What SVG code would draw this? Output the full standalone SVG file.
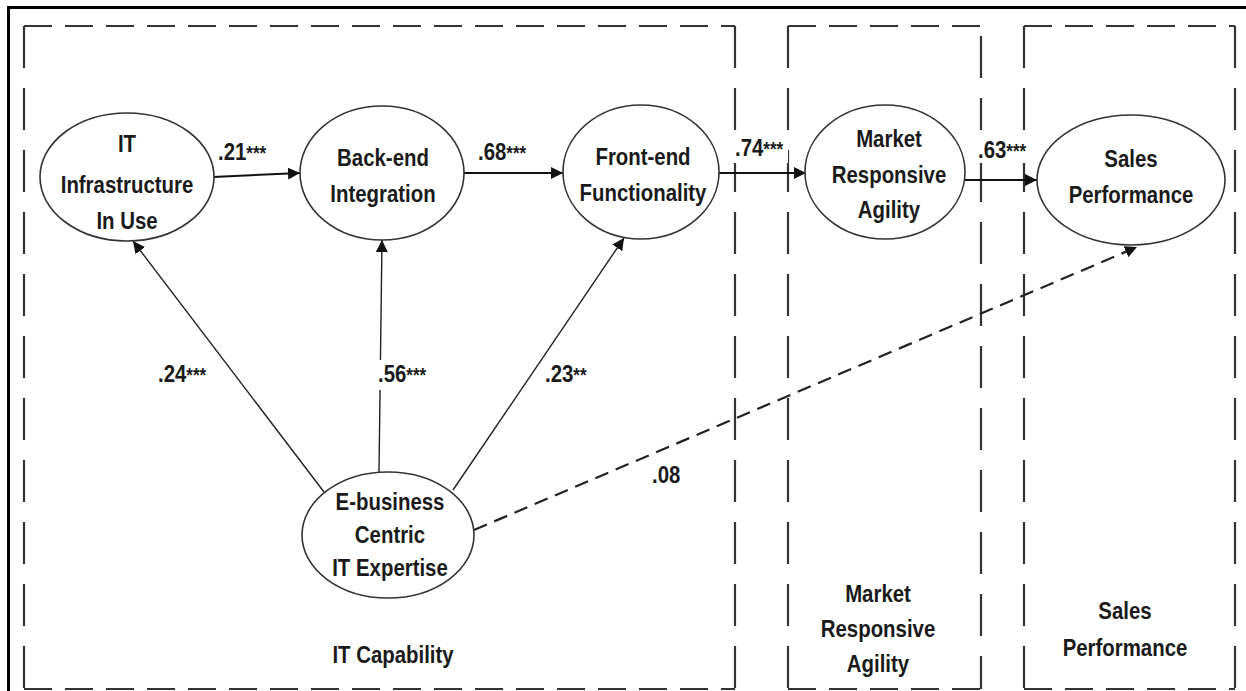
<svg xmlns="http://www.w3.org/2000/svg" width="1246" height="691" viewBox="0 0 1246 691">
  <style>
    .bg { fill: #ffffff; }
    .frame { fill: none; stroke: #000; stroke-width: 3; }
    .hd { stroke: #333; stroke-width: 2.2; stroke-dasharray: 28 13; fill: none; }
    .vd { stroke: #333; stroke-width: 2.2; stroke-dasharray: 42 20; fill: none; }
    .node ellipse { fill: #fff; stroke: #333; stroke-width: 1.6; }
    .t { font-family: "Liberation Sans Narrow", "Arial Narrow", "Liberation Sans", Arial, sans-serif; font-weight: bold; font-size: 24px; fill: #1a1a1a; text-anchor: middle; }
    .lbl { font-family: "Liberation Sans Narrow", "Arial Narrow", "Liberation Sans", Arial, sans-serif; font-weight: bold; font-size: 24px; fill: #1a1a1a; }
    .star { font-size: 20px; }
    .h { stroke: #111; stroke-width: 2; fill: none; }
    .d { stroke: #222; stroke-width: 1.4; fill: none; }
    .ds { stroke: #222; stroke-width: 2.2; stroke-dasharray: 14 8; fill: none; }
    .wb { fill: #fff; }
  </style>
  <defs>
    <marker id="ah" markerUnits="userSpaceOnUse" markerWidth="13" markerHeight="12" refX="12" refY="6" orient="auto">
      <path d="M0,0 L12,6 L0,12 z" fill="#111"/>
    </marker>
  </defs>
  <rect class="bg" x="0" y="0" width="1246" height="691"/>
  <rect class="frame" x="8.5" y="7.5" width="1300" height="800"/>

  <g id="boxes">
    <g id="box-it-capability">
      <line class="hd" x1="24" y1="26" x2="735" y2="26"/>
      <line class="vd" x1="24" y1="26" x2="24" y2="689"/>
      <line class="vd" x1="735" y1="26" x2="735" y2="689"/>
      <line class="hd" x1="24" y1="689" x2="735" y2="689"/>
      <text class="t" transform="translate(393 663) scale(0.85 1)">IT Capability</text>
    </g>
    <g id="box-market">
      <line class="hd" x1="788" y1="26" x2="981" y2="26"/>
      <line class="vd" x1="788" y1="26" x2="788" y2="689"/>
      <line class="vd" x1="981" y1="36" x2="981" y2="689"/>
      <line class="hd" x1="788" y1="689" x2="981" y2="689"/>
      <text class="t" transform="translate(878 602) scale(0.85 1)">Market</text>
      <text class="t" transform="translate(878 637) scale(0.85 1)">Responsive</text>
      <text class="t" transform="translate(878 672) scale(0.85 1)">Agility</text>
    </g>
    <g id="box-sales">
      <line class="hd" x1="1024" y1="26" x2="1235" y2="26"/>
      <line class="vd" x1="1024" y1="26" x2="1024" y2="689"/>
      <line class="vd" x1="1235" y1="26" x2="1235" y2="689"/>
      <line class="hd" x1="1024" y1="689" x2="1235" y2="689"/>
      <text class="t" transform="translate(1125 619) scale(0.85 1)">Sales</text>
      <text class="t" transform="translate(1125 656) scale(0.85 1)">Performance</text>
    </g>
  </g>

  <g id="connectors">
    <line class="h" x1="213" y1="177" x2="300" y2="173" marker-end="url(#ah)"/>
    <line class="h" x1="463" y1="173" x2="563" y2="173" marker-end="url(#ah)"/>
    <line class="h" x1="719" y1="173" x2="806" y2="173" marker-end="url(#ah)"/>
    <line class="h" x1="965" y1="180" x2="1037" y2="180" marker-end="url(#ah)"/>
    <line class="d" x1="324" y1="492" x2="133" y2="241" marker-end="url(#ah)"/>
    <line class="d" x1="379" y1="472" x2="382" y2="240" marker-end="url(#ah)"/>
    <line class="d" x1="453" y1="490" x2="624" y2="238" marker-end="url(#ah)"/>
    <line class="ds" x1="474" y1="530" x2="1137" y2="247" marker-end="url(#ah)"/>
  </g>

  <g id="labels">
    <text class="lbl" transform="translate(218 160) scale(0.85 1)">.21<tspan class="star">***</tspan></text>
    <text class="lbl" transform="translate(478 160) scale(0.85 1)">.68<tspan class="star">***</tspan></text>
    <rect class="wb" x="733" y="130" width="55" height="33"/>
    <text class="lbl" transform="translate(735 156) scale(0.85 1)">.74<tspan class="star">***</tspan></text>
    <rect class="wb" x="976" y="130" width="56" height="33"/>
    <text class="lbl" transform="translate(978 158) scale(0.85 1)">.63<tspan class="star">***</tspan></text>
    <text class="lbl" transform="translate(158 382) scale(0.85 1)">.24<tspan class="star">***</tspan></text>
    <rect class="wb" x="378" y="360" width="54" height="30"/>
    <text class="lbl" transform="translate(378 382) scale(0.85 1)">.56<tspan class="star">***</tspan></text>
    <rect class="wb" x="543" y="360" width="46" height="30"/>
    <text class="lbl" transform="translate(545 382) scale(0.85 1)">.23<tspan class="star">**</tspan></text>
    <text class="lbl" transform="translate(652 483) scale(0.85 1)">.08</text>
  </g>

  <g id="node-it-infrastructure" class="node">
    <ellipse cx="127" cy="177" rx="87" ry="64"/>
    <text class="t" transform="translate(127 152) scale(0.85 1)">IT</text>
    <text class="t" transform="translate(127 193) scale(0.85 1)">Infrastructure</text>
    <text class="t" transform="translate(127 229) scale(0.85 1)">In Use</text>
  </g>
  <g id="node-backend" class="node">
    <ellipse cx="382" cy="173" rx="82" ry="67"/>
    <text class="t" transform="translate(383 166) scale(0.85 1)">Back-end</text>
    <text class="t" transform="translate(383 202) scale(0.85 1)">Integration</text>
  </g>
  <g id="node-frontend" class="node">
    <ellipse cx="641" cy="172" rx="78" ry="67"/>
    <text class="t" transform="translate(643 165) scale(0.85 1)">Front-end</text>
    <text class="t" transform="translate(643 201) scale(0.85 1)">Functionality</text>
  </g>
  <g id="node-market" class="node">
    <ellipse cx="885" cy="172" rx="80" ry="67"/>
    <text class="t" transform="translate(889 147) scale(0.85 1)">Market</text>
    <text class="t" transform="translate(889 183) scale(0.85 1)">Responsive</text>
    <text class="t" transform="translate(889 218) scale(0.85 1)">Agility</text>
  </g>
  <g id="node-sales" class="node">
    <ellipse cx="1131" cy="180" rx="94" ry="65"/>
    <text class="t" transform="translate(1131 167) scale(0.85 1)">Sales</text>
    <text class="t" transform="translate(1131 203) scale(0.85 1)">Performance</text>
  </g>
  <g id="node-ebusiness" class="node">
    <ellipse cx="388" cy="535" rx="86" ry="63"/>
    <text class="t" transform="translate(390 510) scale(0.85 1)">E-business</text>
    <text class="t" transform="translate(390 543) scale(0.85 1)">Centric</text>
    <text class="t" transform="translate(390 576) scale(0.85 1)">IT Expertise</text>
  </g>
</svg>
